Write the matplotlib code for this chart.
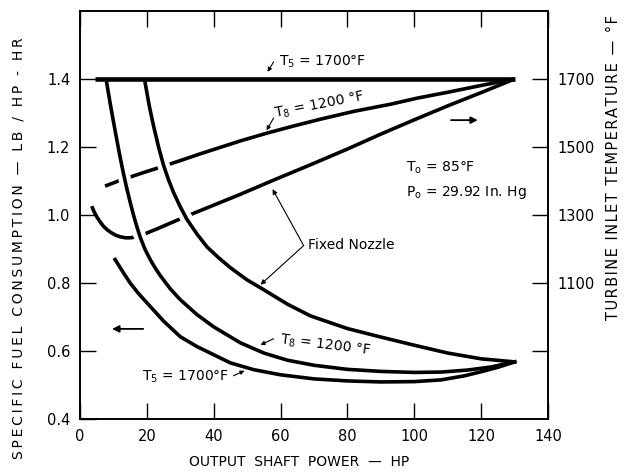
import matplotlib
matplotlib.use('Agg')
import matplotlib.pyplot as plt

plt.rcParams['font.family'] = ['DejaVu Sans']
plt.rcParams['mathtext.default'] = 'regular'

# ---------------- data ----------------
# turbine inlet temperature lines (right axis, deg F)
t5_temp_x = [4.5, 130]
t5_temp_T = [1700, 1700]

t8_temp_x = [7.5, 11.5, 16, 20, 24.5, 30, 36, 42, 48, 56, 64, 72, 82, 93, 101, 110, 120, 130]
t8_temp_T = [1385, 1400, 1415, 1428, 1442, 1460, 1480, 1499, 1518, 1541, 1562, 1582, 1605, 1626, 1644, 1661, 1681, 1700]

fn_temp_x = [3.5, 4.2, 5.0, 6.0, 7.0, 8.2, 9.5, 10.8, 12, 13.5, 15, 16.5, 19, 23, 27, 32, 40, 48, 58, 69, 80, 90, 100, 110, 120, 130]
fn_temp_T = [1326, 1310, 1295, 1280, 1267, 1256, 1247, 1240, 1236, 1233, 1233, 1235, 1243, 1259, 1276, 1297, 1329, 1361, 1403, 1448, 1494, 1538, 1580, 1621, 1660, 1700]

# specific fuel consumption curves (left axis, lb/hp-hr)
t8_sfc_x = [8.0, 9.0, 10.0, 11.0, 12.0, 13.0, 14.0, 15.0, 16.0, 17.0, 18.0, 19.4, 21.0, 22.5, 24, 27, 30, 35, 40, 48, 55, 62, 70, 80, 90, 100, 108, 116, 123, 130]
t8_sfc_y = [1.388, 1.330, 1.275, 1.222, 1.170, 1.122, 1.078, 1.038, 1.000, 0.966, 0.935, 0.900, 0.869, 0.844, 0.822, 0.783, 0.751, 0.707, 0.671, 0.624, 0.594, 0.573, 0.558, 0.546, 0.540, 0.537, 0.538, 0.544, 0.553, 0.568]

fn_sfc_x = [19.5, 20.7, 22.0, 23.5, 25.0, 26.5, 28.0, 30.0, 32.0, 35, 38, 41.5, 45, 50, 55, 62, 69, 80, 90, 100, 110, 120, 130]
fn_sfc_y = [1.388, 1.322, 1.262, 1.200, 1.146, 1.103, 1.066, 1.024, 0.987, 0.944, 0.906, 0.874, 0.845, 0.809, 0.780, 0.738, 0.703, 0.666, 0.641, 0.617, 0.594, 0.577, 0.568]

t5_sfc_x = [10.5, 13, 15, 17.5, 20, 25, 30, 35, 40, 45, 52, 60, 70, 80, 90, 100, 108, 115, 120, 125, 130]
t5_sfc_y = [0.869, 0.830, 0.800, 0.769, 0.742, 0.688, 0.642, 0.613, 0.589, 0.565, 0.545, 0.530, 0.518, 0.512, 0.509, 0.510, 0.515, 0.527, 0.539, 0.552, 0.568]

x_ticks = [0, 20, 40, 60, 80, 100, 120, 140]
sfc_ticks = [0.4, 0.6, 0.8, 1.0, 1.2, 1.4]
temp_ticks = [900, 1100, 1300, 1500, 1700]
temp_labels = ['', '1100', '1300', '1500', '1700']


def spaced(s, sep='\u2009'):
    return sep.join(s)


# ---------------- figure ----------------
fig = plt.figure(figsize=(6.29, 4.72), dpi=100)
ax = fig.add_axes([80/629, 1-419/472, 468/629, 408/472])
ax2 = ax.twinx()
ax.set_zorder(ax2.get_zorder() + 1)
ax.patch.set_visible(False)

ax.set_xlim(0, 140)
ax.set_ylim(0.4, 1.6)
ax2.set_ylim(700, 1900)

lw = 2.6
# temperature lines on right axis
ax2.plot(t5_temp_x, t5_temp_T, color='black', lw=3.3, solid_capstyle='butt')
ax2.plot(t8_temp_x, t8_temp_T, color='black', lw=lw, solid_capstyle='butt', solid_joinstyle='round')
ax2.plot(fn_temp_x, fn_temp_T, color='black', lw=lw, solid_capstyle='butt', solid_joinstyle='round')

# white halos where the sfc curves cross the temperature lines
a_idx = [i for i, v in enumerate(t8_sfc_y) if 0.86 < v < 1.3]
b_idx = [i for i, v in enumerate(fn_sfc_y) if 0.9 < v < 1.3]
ax.plot([t8_sfc_x[i] for i in a_idx], [t8_sfc_y[i] for i in a_idx], color='white', lw=9, solid_capstyle='butt')
ax.plot([fn_sfc_x[i] for i in b_idx], [fn_sfc_y[i] for i in b_idx], color='white', lw=9, solid_capstyle='butt')

ax.plot(t8_sfc_x, t8_sfc_y, color='black', lw=lw, solid_joinstyle='round')
ax.plot(fn_sfc_x, fn_sfc_y, color='black', lw=lw, solid_joinstyle='round')
ax.plot(t5_sfc_x, t5_sfc_y, color='black', lw=lw, solid_joinstyle='round')

# ticks
ax.set_xticks(x_ticks)
ax.set_xticklabels([str(v) for v in x_ticks])
ax.set_yticks(sfc_ticks)
ax.set_yticklabels(['%.1f' % v for v in sfc_ticks])
ax2.set_yticks(temp_ticks)
ax2.set_yticklabels(temp_labels)
ax.tick_params(axis='x', direction='in', length=11.5, width=1, top=True, labeltop=False,
               pad=7, labelsize=10.5)
ax.tick_params(axis='y', direction='in', length=11.5, width=1, right=False, pad=7, labelsize=10.5)
ax2.tick_params(axis='y', direction='in', length=11.5, width=1, pad=7, labelsize=10.5)
for a in (ax, ax2):
    for s in a.spines.values():
        s.set_linewidth(1.2)

fs = 10
# axis labels
fig.text(299/629, 1-462/472, 'OUTPUT  SHAFT  POWER  —  HP', ha='center', va='center', fontsize=fs)
fig.text(18.5/629, 1-248/472, spaced('SPECIFIC FUEL CONSUMPTION — LB / HP - HR'), ha='center', va='center',
         rotation=90, fontsize=fs)
fig.text(613/629, 1-168/472, spaced('TURBINE INLET TEMPERATURE — °F', '\u200a'), ha='center', va='center',
         rotation=90, fontsize=10.5)

# annotations
arrow_small = dict(arrowstyle='-|>', color='black', lw=0.8, mutation_scale=6, shrinkA=0, shrinkB=0)
ax.annotate('', xy=(56.1, 1.421), xytext=(57.9, 1.450), arrowprops=arrow_small)
ax.text(59.4, 1.452, r'$T_5$ = 1700°F', ha='left', va='center', fontsize=fs)

ax.annotate('', xy=(55.8, 1.249), xytext=(57.9, 1.285), arrowprops=arrow_small)
ax.text(58.3, 1.298, r'$T_8$ = 1200 °F', ha='left', va='center', fontsize=fs, rotation=11,
        rotation_mode='anchor')

ax.text(97.5, 1.140, r'$T_o$ = 85°F', ha='left', va='center', fontsize=fs)
ax.text(97.5, 1.067, r'$P_o$ = 29.92 In. Hg', ha='left', va='center', fontsize=fs)

arrow_line = dict(arrowstyle='-|>', color='black', lw=0.8, mutation_scale=7, shrinkA=0, shrinkB=0)
ax.annotate('', xy=(57.6, 1.076), xytext=(66.9, 0.910), arrowprops=arrow_line)
ax.annotate('', xy=(54.0, 0.795), xytext=(66.9, 0.910), arrowprops=arrow_line)
ax.text(68.2, 0.912, 'Fixed Nozzle', ha='left', va='center', fontsize=fs)

ax.annotate('', xy=(54.0, 0.618), xytext=(57.9, 0.636), arrowprops=arrow_small)
ax.text(59.8, 0.632, r'$T_8$ = 1200 °F', ha='left', va='center', fontsize=fs, rotation=-7,
        rotation_mode='anchor')

ax.annotate('', xy=(49.2, 0.542), xytext=(45.9, 0.527), arrowprops=arrow_small)
ax.text(18.6, 0.524, r'$T_5$ = 1700°F', ha='left', va='center', fontsize=fs)

big_arrow = dict(arrowstyle='-|>', color='black', lw=1.3, mutation_scale=10, shrinkA=0, shrinkB=0)
ax.annotate('', xy=(9.6, 0.665), xytext=(18.9, 0.665), arrowprops=big_arrow)
ax.annotate('', xy=(119.0, 1.279), xytext=(111.0, 1.279), arrowprops=big_arrow)

fig.savefig('out.png', dpi=100)
